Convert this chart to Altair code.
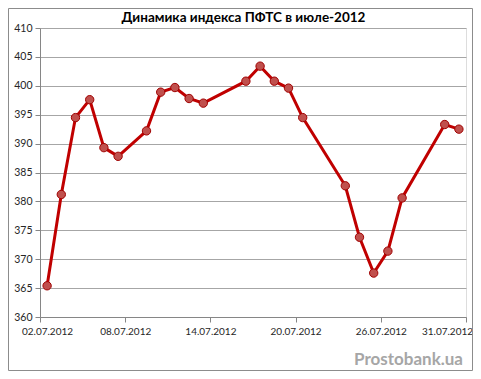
import altair as alt
import pandas as pd

dates = ["02.07.2012", "03.07.2012", "04.07.2012", "05.07.2012", "06.07.2012",
         "07.07.2012", "09.07.2012", "10.07.2012", "11.07.2012", "12.07.2012",
         "13.07.2012", "16.07.2012", "17.07.2012", "18.07.2012", "19.07.2012",
         "20.07.2012", "23.07.2012", "24.07.2012", "25.07.2012", "26.07.2012",
         "27.07.2012", "30.07.2012", "31.07.2012"]
values = [365.4, 381.2, 394.5, 397.6, 389.3, 387.8, 392.2, 398.9, 399.7, 397.8,
          397.0, 400.8, 403.4, 400.8, 399.6, 394.5, 382.7, 373.8, 367.6, 371.4,
          380.6, 393.3, 392.5]

tick_days = [1.5, 7.5, 13.5, 19.5, 25.5, 31.5]
tick_labels = ["02.07.2012", "08.07.2012", "14.07.2012", "20.07.2012",
               "26.07.2012", "31.07.2012"]
y_ticks = [360, 365, 370, 375, 380, 385, 390, 395, 400, 405, 410]

title_text = "Динамика индекса ПФТС в июле-2012"
watermark = "Prostobank.ua"

df = pd.DataFrame({"date": dates, "value": values})
df["day"] = df["date"].str.slice(0, 2).astype(int)

label_expr = " : ".join(
    f"datum.value == {v} ? '{l}'" for v, l in zip(tick_days, tick_labels)
) + " : ''"
offset_expr = (f"datum.value == {tick_days[0]} ? 7 : "
               f"datum.value == {tick_days[-1]} ? -19 : 0")

W, H = 426, 289

x_axis = alt.Axis(values=tick_days, tickCount=20, labelExpr=label_expr,
                  grid=False, title=None, tickSize=5, labelPadding=4,
                  labelFlush=False, labelOffset=alt.ExprRef(offset_expr),
                  labelOverlap=False,
                  domainColor="#868686", tickColor="#868686",
                  labelFont="Lato", labelFontSize=10,
                  labelColor="#262626")
y_axis = alt.Axis(values=y_ticks, tickCount=20, grid=True, gridColor="#a6a6a6",
                  title=None, tickSize=5, labelPadding=3,
                  labelOverlap=False,
                  domainColor="#868686", tickColor="#868686",
                  labelFont="Lato", labelFontSize=10.5,
                  labelColor="#262626")
x_scale = alt.Scale(domain=[1.5, 31.5], nice=False, zero=False)
y_scale = alt.Scale(domain=[360, 410], nice=False, zero=False)

x_enc = alt.X("day:Q", scale=x_scale, axis=x_axis)
y_enc = alt.Y("value:Q", scale=y_scale, axis=y_axis)

base = alt.Chart(df)
line = base.mark_line(color="#c00000", strokeWidth=3).encode(x=x_enc, y=y_enc)
pts = base.mark_circle(size=70, opacity=1, color="#c0504d", stroke="#a00000",
                       strokeWidth=1).encode(x=x_enc, y=y_enc)

wm = alt.Chart(pd.DataFrame({"t": [watermark]})).mark_text(
    font="Lato", fontSize=17, fontWeight="bold", color="#a6a6a6",
    align="right", baseline="alphabetic"
).encode(text="t:N", x=alt.value(423), y=alt.value(337))

ttl = alt.Chart(pd.DataFrame({"t": [title_text]})).mark_text(
    font="Lato", fontSize=13.5, fontWeight="bold", color="#000000",
    align="center", baseline="alphabetic"
).encode(text="t:N", x=alt.value(203.5), y=alt.value(-6.3))

border = alt.Chart(pd.DataFrame({"t": [0]})).mark_rect(
    fill="transparent", stroke="#8c8c8c", strokeWidth=1
).encode(x=alt.value(-31.5), x2=alt.value(432.5), y=alt.value(-19.5),
         y2=alt.value(342.5))

chart = alt.layer(border, line, pts, wm, ttl).properties(
    width=W, height=H,
    autosize=alt.AutoSizeParams(type="none"),
    padding={"left": 32, "top": 20, "right": 7, "bottom": 54},
).configure_view(strokeWidth=0).configure(background="white")

chart.save("out.html", embed_options={"renderer": "svg", "actions": False})
